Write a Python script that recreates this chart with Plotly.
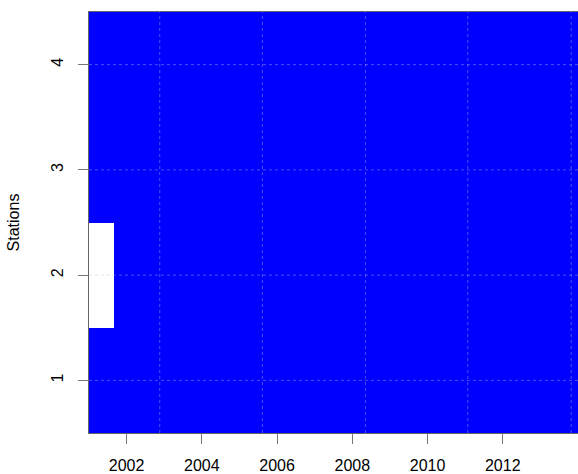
import numpy as np
import plotly.graph_objects as go

# ---- data ----
stations = [1, 2, 3, 4]
start_year = 2001
n_years = 14                      # monthly records 2001-01 .. 2014-12
first_available_month = [1, 9, 1, 1]   # 1-based month index where each station's record starts
year_ticks = [2002, 2004, 2006, 2008, 2010, 2012]
tick_labels = ["2002", "2004", "2006", "2008", "2010", "2012"]
grid_x = [2002.88, 2005.61, 2008.35, 2011.07, 2013.82]   # dotted vertical grid positions

# ---- build availability matrix ----
n_months = n_years * 12
month_centers = [start_year + (i + 0.5) / 12 for i in range(n_months)]
z = []
for st, first in zip(stations, first_available_month):
    row = [np.nan if (i + 1) < first else 1 for i in range(n_months)]
    z.append(row)

fig = go.Figure()
fig.add_trace(go.Heatmap(
    x=month_centers, y=stations, z=z,
    colorscale=[[0, "#0000FF"], [1, "#0000FF"]],
    showscale=False, zmin=0, zmax=1, hoverinfo="skip",
))

grid_line = dict(color="rgba(190,190,215,0.4)", width=1, dash="dot")
shapes = []
for gx in grid_x:
    shapes.append(dict(type="line", xref="x", yref="paper", x0=gx, x1=gx, y0=0, y1=1,
                       line=grid_line, layer="above"))
for st in stations:
    shapes.append(dict(type="line", xref="paper", yref="y", x0=0, x1=1, y0=st, y1=st,
                       line=grid_line, layer="above"))

fig.update_layout(
    width=578, height=474,
    margin=dict(l=89, r=0, t=12, b=36),
    paper_bgcolor="white", plot_bgcolor="white",
    font=dict(family="Liberation Sans, Arial, sans-serif", size=16, color="black"),
    showlegend=False,
    shapes=shapes,
    xaxis=dict(
        range=[start_year, start_year + 13],
        tickvals=year_ticks, ticktext=tick_labels,
        ticks="outside", ticklen=10, tickcolor="#777", tickwidth=1,
        showline=True, linecolor="#666", linewidth=1, mirror=True,
        showgrid=False, zeroline=False,
        ticklabelstandoff=8,
    ),
    yaxis=dict(
        range=[0.5, 4.5],
        tickvals=stations, ticktext=[str(s) for s in stations],
        tickangle=-90,
        ticks="outside", ticklen=10, tickcolor="#777", tickwidth=1,
        showline=True, linecolor="#666", linewidth=1, mirror=False,
        showgrid=False, zeroline=False,
        ticklabelstandoff=9,
        title=dict(text="Stations", standoff=24, font=dict(size=16)),
    ),
)

fig.write_html(
    "out.html",
    config={"displayModeBar": False},
    post_script="document.body.style.margin='0';document.body.style.overflow='hidden';",
)
